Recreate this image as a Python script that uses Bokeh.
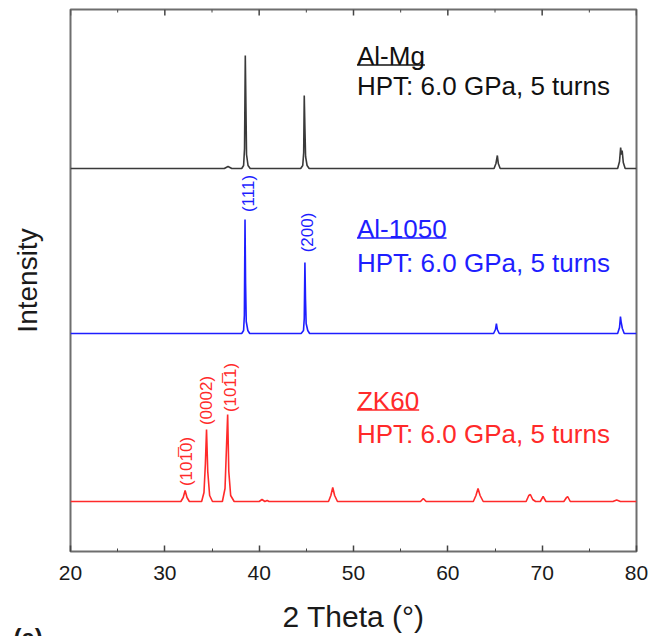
from bokeh.plotting import figure
from bokeh.models import Range1d, FixedTicker, Title
from bokeh.core.properties import value
from bokeh.embed import file_html
from bokeh.resources import INLINE
import math

# ---------------- data ----------------
x_ticks = [20, 30, 40, 50, 60, 70, 80]
x_minor = [25, 35, 45, 55, 65, 75]

# Al-Mg (black)
tt_almg = [20, 36.3, 36.7, 37.1, 38.15, 38.35, 38.45, 38.53, 38.6, 38.66, 38.82, 39.05,
           44.4, 44.62, 44.72, 44.78, 44.85, 44.92, 45.08, 45.3,
           64.9, 65.1, 65.25, 65.35, 65.55,
           78.0, 78.2, 78.32, 78.4, 78.48, 78.6, 78.8, 80]
i_almg = [0, 0, 2, 0, 0, 3, 20, 113, 60, 14, 3, 0,
          0, 3, 16, 73, 40, 12, 3, 0,
          0, 5, 13, 5, 0,
          0, 7, 21, 14, 18, 6, 0, 0]

# Al-1050 (blue)
tt_al1050 = [20, 38.15, 38.35, 38.43, 38.5, 38.56, 38.63, 38.8, 39.0,
             44.45, 44.7, 44.78, 44.85, 44.91, 44.98, 45.15, 45.35,
             64.85, 65.05, 65.15, 65.25, 65.45,
             78.0, 78.2, 78.3, 78.38, 78.5, 78.7, 80]
i_al1050 = [0, 0, 3, 18, 114, 50, 12, 3, 0,
            0, 3, 15, 71, 35, 10, 3, 0,
            0, 4, 10, 4, 0,
            0, 6, 17, 11, 5, 0, 0]

# ZK60 (red)
tt_zk60 = [20, 31.7, 31.95, 32.15, 32.35, 32.6,
           33.9, 34.15, 34.3, 34.42, 34.55, 34.75, 35.05,
           36.1, 36.38, 36.55, 36.66, 36.78, 36.98, 37.35,
           40.0, 40.3, 40.6, 40.85, 41.05,
           47.35, 47.6, 47.8, 48.0, 48.3,
           57.1, 57.4, 57.7,
           62.7, 62.98, 63.2, 63.42, 63.75,
           68.3, 68.58, 68.75, 69.0, 69.3,
           69.8, 70.1, 70.4,
           72.3, 72.58, 72.7, 72.98,
           77.5, 77.9, 78.3, 80]
i_zk60 = [0, 0, 4, 11, 4, 0,
          0, 9, 38, 72, 30, 6, 0,
          0, 13, 58, 87, 30, 6, 0,
          0, 2, 0, 1, 0,
          0, 6, 14, 6, 0,
          0, 3, 0,
          0, 6, 13, 6, 0,
          0, 6, 7, 2, 0,
          0, 5, 0,
          0, 4, 5, 0,
          0, 1.5, 0, 0]

offsets = [383, 218, 50]          # vertical stacking of the three patterns
names = ["Al-Mg", "Al-1050", "ZK60"]
conditions = ["HPT: 6.0 GPa, 5 turns"] * 3

al_planes = ["(111)", "(200)"]
zk_planes = ["(10" + "1\u0305" + "0)", "(0002)", "(10" + "1\u0305" + "1)"]

# ---------------- figure ----------------
FONT = "Liberation Sans"
Y_TOP = 542
p = figure(frame_width=566, frame_height=542,
           x_range=Range1d(20, 80), y_range=Range1d(0, Y_TOP),
           output_backend="svg", toolbar_location=None,
           min_border_left=70, min_border_right=18,
           min_border_top=9, min_border_bottom=85,
           x_axis_label="2 Theta (\u00b0)", y_axis_label="Intensity")
p.background_fill_color = "white"
p.border_fill_color = "white"
p.grid.visible = False
p.outline_line_color = "#6e6e6e"
p.outline_line_width = 2

xa = p.xaxis[0]
xa.ticker = FixedTicker(ticks=x_ticks, minor_ticks=x_minor)
xa.axis_line_color = None
xa.major_tick_in = 6
xa.major_tick_out = 0
xa.minor_tick_in = 3
xa.minor_tick_out = 0
xa.major_tick_line_color = "#444444"
xa.minor_tick_line_color = "#444444"
xa.major_tick_line_width = 1.5
xa.major_label_text_font = FONT
xa.major_label_text_font_size = "21px"
xa.major_label_text_color = "#1a1a1a"
xa.major_label_standoff = 14
xa.axis_label_text_font = FONT
xa.axis_label_text_font_size = "30px"
xa.axis_label_text_font_style = "normal"
xa.axis_label_text_color = "#1a1a1a"
xa.axis_label_standoff = 17

ya = p.yaxis[0]
ya.ticker = FixedTicker(ticks=[])
ya.axis_line_color = None
ya.major_tick_line_color = None
ya.minor_tick_line_color = None
ya.axis_label_text_font = FONT
ya.axis_label_text_font_size = "28px"
ya.axis_label_text_font_style = "normal"
ya.axis_label_text_color = "#1a1a1a"
ya.axis_label_standoff = 28

# inward ticks on the top edge of the frame (same tick positions as the x axis)
p.segment(x0=x_ticks, y0=[Y_TOP] * len(x_ticks), x1=x_ticks, y1=[Y_TOP - 6] * len(x_ticks),
          line_color="#444444", line_width=1.5)
p.segment(x0=x_minor, y0=[Y_TOP] * len(x_minor), x1=x_minor, y1=[Y_TOP - 3] * len(x_minor),
          line_color="#444444", line_width=1)

colors = ["#3a3a3a", "#1e1eff", "#ff2a2a"]
series = [(tt_almg, i_almg), (tt_al1050, i_al1050), (tt_zk60, i_zk60)]
for (xs, ys), off, c in zip(series, offsets, colors):
    p.line(xs, [v + off for v in ys], line_color=c, line_width=1.6)

# sample names (underlined) and processing condition
name_x = 50.37
name_dy = [113, 105, 101]
cond_dy = [83, 71, 68]
for nm, cond, off, c, ndy, cdy in zip(names, conditions, offsets, colors, name_dy, cond_dy):
    col = "#111111" if c == "#3a3a3a" else c
    p.text(x=[name_x], y=[off + ndy], text=[nm], text_font=value(FONT),
           text_font_size="26px", text_color=col, text_baseline="middle", text_align="left")
    p.text(x=[name_x], y=[off + cdy], text=[cond], text_font=value(FONT),
           text_font_size="26px", text_color=col, text_baseline="middle", text_align="left")
    # underline: width of the name in Arial metrics at 26 px, converted to degrees
    w_em = {"Al-Mg": 2.611, "Al-1050": 3.446, "ZK60": 2.390}[nm]
    w_deg = w_em * 26 / (566 / 60)
    p.segment(x0=[name_x], y0=[off + ndy - 9.5], x1=[name_x + w_deg], y1=[off + ndy - 9.5],
              line_color=col, line_width=1.6)

# peak indexes (rotated)
p.text(x=[38.85, 45.17], y=[offsets[1] + 140, offsets[1] + 101], text=al_planes,
       angle=math.pi / 2, text_font=value(FONT), text_font_size="17px",
       text_color=colors[1], text_align="center", text_baseline="middle")
p.text(x=[32.25, 34.45, 36.92], y=[offsets[2] + 40, offsets[2] + 101, offsets[2] + 114],
       text=zk_planes, angle=math.pi / 2, text_font=value(FONT), text_font_size="17px",
       text_color=colors[2], text_align="center", text_baseline="middle")

# panel letter: a title below the x axis, pulled up beside the axis label
p.add_layout(Title(text="(a)", align="left", offset=-57, standoff=-30,
                   text_font=FONT, text_font_size="24px", text_font_style="bold",
                   text_color="#1a1a1a"), "below")

open("out.html", "w").write(file_html(p, INLINE))
